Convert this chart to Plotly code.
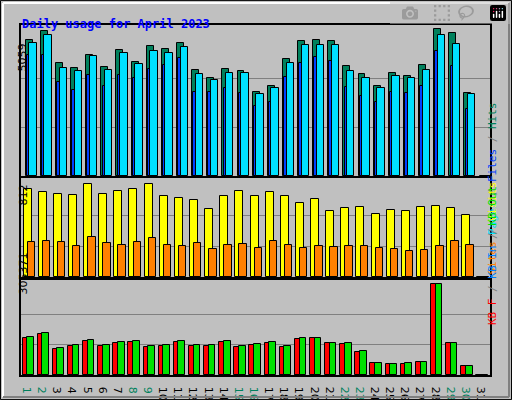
import plotly.graph_objects as go

days = list(range(1, 32))
hits  = [4680,4990,3890,3720,4160,3750,4340,3920,4470,4370,4580,3650,3370,3680,3610,2890,3100,4030,4650,4680,4650,3790,3510,3100,3540,3440,3820,5059,4920,2860,0]
files = [4580,4850,3720,3610,4120,3640,4230,3860,4300,4250,4430,3520,3290,3550,3540,2820,3030,3880,4500,4500,4510,3600,3390,3040,3450,3380,3640,4850,4540,2810,0]
pages = [4160,4160,3240,2960,3480,3100,3480,3370,3680,3820,4060,2890,2890,3030,2860,2400,2550,3400,3900,4100,3950,3050,2750,2550,2900,2850,3100,4300,3800,2300,0]
visits = [768,742,725,716,812,725,751,768,812,707,690,672,594,707,751,707,742,707,646,681,576,602,611,550,585,576,611,620,602,541,0]
sites  = [306,314,306,271,349,297,279,306,340,279,271,297,244,279,288,253,314,279,253,271,262,271,271,253,244,227,236,271,314,279,0]
kbf  = [124000,137000,87000,97000,114000,97000,107000,111000,94000,97000,111000,97000,97000,111000,94000,100000,107000,94000,120000,124000,107000,104000,77000,40300,36900,36900,43600,305371,107400,30200,0]
kbin = [1500]*30 + [0]
kbout = [127500,141000,90600,100700,117500,100700,110700,114100,97300,100700,114100,100700,100700,114100,97300,104000,110700,97300,124200,124200,107400,107400,80500,40300,36900,40300,43600,305371,107400,30200,0]
weekend = {1,2,8,9,15,16,22,23,29,30}

BG = "#c0c0c0"
fig = go.Figure()
line = dict(color="black", width=1)
def bar(y, color, off, w, ax):
    fig.add_trace(go.Bar(x=days, y=y, marker=dict(color=color, line=line), offset=off, width=w,
                         xaxis="x" + ax, yaxis="y" + ax, showlegend=False, hoverinfo="skip"))
bar(hits, "#00805c", -0.19, 0.46, "")
bar(pages, "#0040ff", -0.11, 0.18, "")
bar(files, "#00e0ff", 0.05, 0.49, "")
bar(visits, "#ffff00", -0.33, 0.53, "2")
bar(sites, "#ff8000", -0.06, 0.49, "2")
bar(kbf, "#ff0000", -0.40, 0.6, "3")
bar(kbin, "#0080ff", -0.36, 0.2, "3")
bar(kbout, "#00e000", -0.09, 0.44, "3")

xd = [21/512, 490/512]
def yax(m, dom, pad):
    return dict(domain=dom, range=[0, m*pad], tickvals=[m/3, 2*m/3], showticklabels=False,
                showgrid=True, gridcolor="#808080", gridwidth=1, ticks="", zeroline=False,
                showline=True, linecolor="black", linewidth=2, mirror=True, fixedrange=True)
def xax(anchor, show):
    d = dict(domain=xd, range=[0.5, 31.5], anchor=anchor, showgrid=False, zeroline=False,
             showline=True, linecolor="black", linewidth=2, mirror=True, ticks="", fixedrange=True)
    if show:
        d.update(tickvals=days, ticktext=[f"<span style='color:{'#00805c' if d_ in weekend else 'black'}'>{d_}</span>" for d_ in days],
                 tickfont=dict(family="DejaVu Sans", size=11, color="black"), ticklabelstandoff=2)
    else:
        d.update(showticklabels=False)
    return d

fig.update_layout(
    width=512, height=400, margin=dict(l=0, r=0, t=0, b=0, autoexpand=False),
    paper_bgcolor=BG, plot_bgcolor=BG, barmode="overlay", bargap=0,
    xaxis=xax("y", False), xaxis2=xax("y2", False), xaxis3=xax("y3", True),
    yaxis=yax(5059, [1-176/400, 1-25/400], 151/147),
    yaxis2=yax(812, [1-277/400, 1-178/400], 99/93),
    yaxis3=yax(305371, [1-375/400, 1-280/400], 95/91),
)

mono = "DejaVu Sans Mono"
ann = [
    dict(x=20/512, y=1-15/400, text="<b>Daily usage for April 2023</b>", font=dict(family=mono, size=12, color="#0000ff"), xanchor="left"),
    dict(x=14/512, y=1-42/400, text="5059", textangle=-90, font=dict(family="DejaVu Sans", size=11, color="black")),
    dict(x=14/512, y=1-195/400, text="812", textangle=-90, font=dict(family="DejaVu Sans", size=11, color="black")),
    dict(x=14/512, y=1-297/400, text="305371", textangle=-90, font=dict(family="DejaVu Sans", size=11, color="black")),
    dict(x=501/512, y=1-100/400, textangle=-90, font=dict(family=mono, size=11),
         text="<span style='color:#00e0ff'>Pages</span><span style='color:#808080'> / </span><span style='color:#0040ff'>Files</span><span style='color:#808080'> / </span><span style='color:#00805c'>Hits</span>"),
    dict(x=501/512, y=1-228/400, textangle=-90, font=dict(family=mono, size=11),
         text="<span style='color:#ff8000'>Sites</span><span style='color:#808080'> / </span><span style='color:#ffff00'>Visits</span>"),
    dict(x=501/512, y=1-327/400, textangle=-90, font=dict(family=mono, size=11),
         text="<span style='color:#ff0000'>KB F</span><span style='color:#808080'> / </span><span style='color:#0080ff'>KB In</span><span style='color:#808080'> / </span><span style='color:#00e000'>KB Out</span>"),
]
for a in ann:
    a.update(xref="paper", yref="paper", showarrow=False)
fig.update_layout(annotations=ann)
fig.update_layout(shapes=[
    dict(type="rect", xref="paper", yref="paper", x0=0.001, y0=0.001, x1=0.999, y1=0.999, line=dict(color="black", width=1)),
    dict(type="line", xref="paper", yref="paper", x0=3/512, y0=1-3/400, x1=509/512, y1=1-3/400, line=dict(color="white", width=2)),
    dict(type="line", xref="paper", yref="paper", x0=3/512, y0=3/400, x1=3/512, y1=1-3/400, line=dict(color="white", width=2)),
    dict(type="line", xref="paper", yref="paper", x0=3/512, y0=3/400, x1=509/512, y1=3/400, line=dict(color="#808080", width=2)),
    dict(type="line", xref="paper", yref="paper", x0=509/512, y0=3/400, x1=509/512, y1=1-3/400, line=dict(color="#808080", width=2)),
])
fig.write_html("out.html", post_script="document.body.style.margin='0';document.body.style.overflow='hidden';")
